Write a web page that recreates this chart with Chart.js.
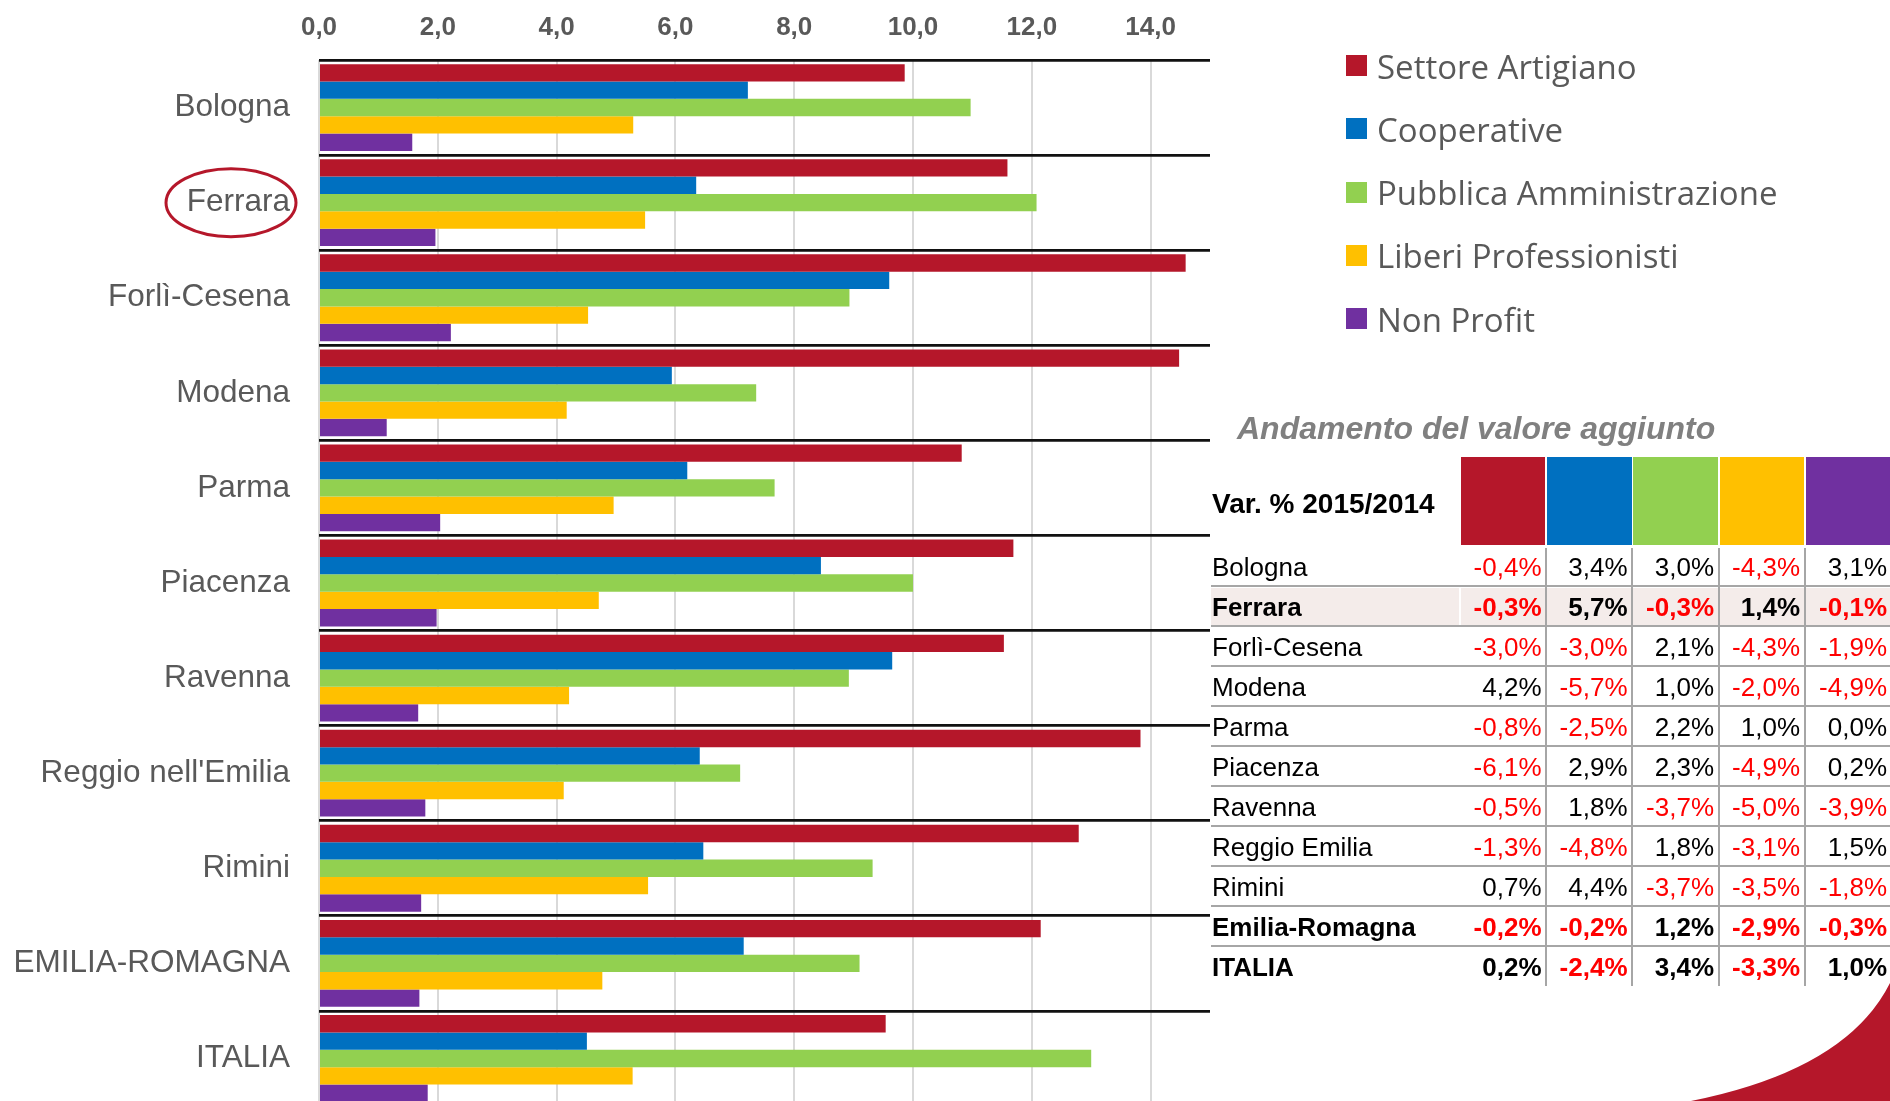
<!DOCTYPE html>
<html><head><meta charset="utf-8">
<script src="https://cdn.jsdelivr.net/npm/chart.js@4.4.1/dist/chart.umd.min.js"></script>
<style>
html,body{margin:0;padding:0;background:#fff;overflow:hidden;width:1890px;height:1101px;}
#wrap{position:absolute;left:0;top:0;width:1890px;height:1110px;}
#overlay{position:absolute;left:0;top:0;width:1890px;height:1101px;pointer-events:none;}
.t{position:absolute;white-space:nowrap;font-family:"Liberation Sans",Arial,sans-serif;}
.b{position:absolute;}
</style></head><body>
<div id="wrap"><canvas id="c" width="1890" height="1110"></canvas></div>
<div id="overlay"></div>
<script>
// ---- bar chart data (valore aggiunto, %) ----
const categories = ['Bologna','Ferrara','Forlì-Cesena','Modena','Parma','Piacenza','Ravenna',"Reggio nell'Emilia",'Rimini','EMILIA-ROMAGNA','ITALIA'];
const seriesNames = ['Settore Artigiano','Cooperative','Pubblica Amministrazione','Liberi Professionisti','Non Profit'];
const seriesColors = ['#b5172a','#0070c0','#92d050','#ffc000','#7030a0'];
const settoreArtigiano        = [9.86, 11.59, 14.59, 14.48, 10.82, 11.69, 11.53, 13.83, 12.79, 12.15, 9.54];
const cooperative             = [7.22, 6.35, 9.60, 5.94, 6.20, 8.45, 9.65, 6.41, 6.47, 7.15, 4.51];
const pubblicaAmministrazione = [10.97, 12.08, 8.93, 7.36, 7.67, 10.00, 8.92, 7.09, 9.32, 9.10, 13.00];
const liberiProfessionisti    = [5.29, 5.49, 4.53, 4.17, 4.96, 4.71, 4.21, 4.12, 5.54, 4.77, 5.28];
const nonProfit               = [1.57, 1.96, 2.22, 1.14, 2.04, 1.98, 1.67, 1.79, 1.72, 1.69, 1.83];
const xTickMin = 0, xTickMax = 15, xTickStep = 2;

// ---- table data (Var. % 2015/2014) ----
const tableTitle = 'Andamento del valore aggiunto';
const tableHeader = 'Var. % 2015/2014';
const tableRows = ['Bologna','Ferrara','Forlì-Cesena','Modena','Parma','Piacenza','Ravenna','Reggio Emilia','Rimini','Emilia-Romagna','ITALIA'];
const varArtigiano    = [-0.4, -0.3, -3.0,  4.2, -0.8, -6.1, -0.5, -1.3,  0.7, -0.2,  0.2];
const varCooperative  = [ 3.4,  5.7, -3.0, -5.7, -2.5,  2.9,  1.8, -4.8,  4.4, -0.2, -2.4];
const varPA           = [ 3.0, -0.3,  2.1,  1.0,  2.2,  2.3, -3.7,  1.8, -3.7,  1.2,  3.4];
const varLiberi       = [-4.3,  1.4, -4.3, -2.0,  1.0, -4.9, -5.0, -3.1, -3.5, -2.9, -3.3];
const varNonProfit    = [ 3.1, -0.1, -1.9, -4.9,  0.0,  0.2, -3.9,  1.5, -1.8, -0.3,  1.0];
const boldRows = ['Ferrara','Emilia-Romagna','ITALIA'];
const highlightRow = 'Ferrara';

const seriesData = [settoreArtigiano, cooperative, pubblicaAmministrazione, liberiProfessionisti, nonProfit];
const varData = [varArtigiano, varCooperative, varPA, varLiberi, varNonProfit];
const fmt = v => v.toFixed(1).replace('.', ',');

const ferraraCircle = {
  id: 'ferraraCircle',
  afterDraw(chart) {
    const ys = chart.scales.y;
    const y = ys.getPixelForValue(categories.indexOf('Ferrara'));
    const ctx = chart.ctx;
    ctx.save();
    ctx.strokeStyle = '#b5172a';
    ctx.lineWidth = 3;
    ctx.beginPath();
    ctx.ellipse(231, y, 65, 34, 0, 0, Math.PI * 2);
    ctx.stroke();
    ctx.restore();
  }
};

new Chart(document.getElementById('c'), {
  type: 'bar',
  data: {
    labels: categories,
    datasets: seriesNames.map((n, i) => ({
      label: n, data: seriesData[i], backgroundColor: seriesColors[i], borderWidth: 0,
      categoryPercentage: 0.913, barPercentage: 1.0
    }))
  },
  options: {
    indexAxis: 'y', responsive: false, animation: false, devicePixelRatio: 1,
    layout: { padding: { left: 0, top: 0, right: 680, bottom: 4 } },
    plugins: { legend: { display: false }, tooltip: { enabled: false } },
    scales: {
      x: {
        position: 'top', min: xTickMin, max: xTickMax,
        grid: { color: '#d9d9d9', lineWidth: 2, drawTicks: false },
        border: { display: false },
        ticks: {
          stepSize: xTickStep, includeBounds: false, padding: 17,
          color: '#595959', font: { family: 'Liberation Sans', size: 26, weight: 'bold' },
          callback: v => fmt(v)
        },
        afterFit: s => { s.height = 60; s.paddingLeft = 0; s.paddingRight = 0; }
      },
      y: {
        grid: { color: '#111', lineWidth: 2.8, drawTicks: false, offset: true },
        border: { display: false },
        ticks: { padding: 29, color: '#595959', font: { family: 'Liberation Sans', size: 31.5 } },
        afterFit: s => { s.width = 319; s.paddingTop = 0; s.paddingBottom = 0; }
      }
    }
  },
  plugins: [ferraraCircle]
});

// ---- overlay: legend, table, decoration ----
const ov = document.getElementById('overlay');
function box(x, y, w, h, color) {
  const d = document.createElement('div'); d.className = 'b';
  d.style.cssText = `left:${x}px;top:${y}px;width:${w}px;height:${h}px;background:${color};`;
  ov.appendChild(d); return d;
}
function text(str, x, yc, size, opts = {}) {
  const d = document.createElement('div'); d.className = 't';
  const H = Math.round(size * 1.4);
  d.textContent = str;
  let css = `top:${yc - H / 2}px;height:${H}px;line-height:${H}px;font-size:${size}px;color:${opts.color || '#000'};`;
  if (opts.family) css += `font-family:${opts.family};`;
  if (opts.bold) css += 'font-weight:bold;';
  if (opts.italic) css += 'font-style:italic;';
  if (opts.align === 'right') css += `right:${1890 - x}px;text-align:right;`;
  else css += `left:${x}px;`;
  d.style.cssText = css;
  ov.appendChild(d); return d;
}

// legend
const legTop = 65.5, legStep = 63.25;
seriesNames.forEach((n, i) => {
  const yc = legTop + i * legStep;
  box(1346, yc - 10.5, 21, 21, seriesColors[i]);
  text(n, 1377, yc + 1, 33, { color: '#595959', family: '"Open Sans", sans-serif' });
});

// table
text(tableTitle, 1237, 428, 32, { color: '#808080', bold: true, italic: true });
text(tableHeader, 1212, 503, 28, { bold: true });
const colX = [1460.5, 1547, 1633, 1719.5, 1805.5];
const colW = 84.5;
colX.forEach((x, i) => box(x, 457, (i === 4 ? 1890 - x : colW), 88, seriesColors[i]));
const rowTop = 545.7, rowH = 40;
const hi = tableRows.indexOf(highlightRow);
box(1211, rowTop + hi * rowH + 2, 248, rowH - 3, '#f4ecea');
box(1461, rowTop + hi * rowH + 2, 429, rowH - 3, '#f4ecea');
for (let i = 0; i < tableRows.length - 1; i++) {
  box(1211, rowTop + (i + 1) * rowH - 1, 679, 2.5, '#a6a6a6');
}
colX.slice(1).forEach(x => box(x - 2, 548, 2, rowTop + tableRows.length * rowH - 548, '#a6a6a6'));
tableRows.forEach((r, i) => {
  const yc = rowTop + i * rowH + 21;
  const bold = boldRows.includes(r);
  text(r, 1212, yc, 26, { bold });
  varData.forEach((arr, j) => {
    const v = arr[i];
    const right = (j < 4 ? colX[j + 1] - 5.5 : 1887);
    text(fmt(v) + '%', right, yc, 26, { bold, align: 'right', color: v < 0 ? '#ff0000' : '#000' });
  });
});

// corner decoration
const svgNS = 'http://www.w3.org/2000/svg';
const svg = document.createElementNS(svgNS, 'svg');
svg.setAttribute('width', '1890'); svg.setAttribute('height', '1101');
svg.style.cssText = 'position:absolute;left:0;top:0;';
const p = document.createElementNS(svgNS, 'path');
p.setAttribute('d', 'M1691,1101 Q1846.6,1069.9 1890,983 L1890,1101 Z');
p.setAttribute('fill', '#b5172a');
svg.appendChild(p); ov.appendChild(svg);
</script>
</body></html>
